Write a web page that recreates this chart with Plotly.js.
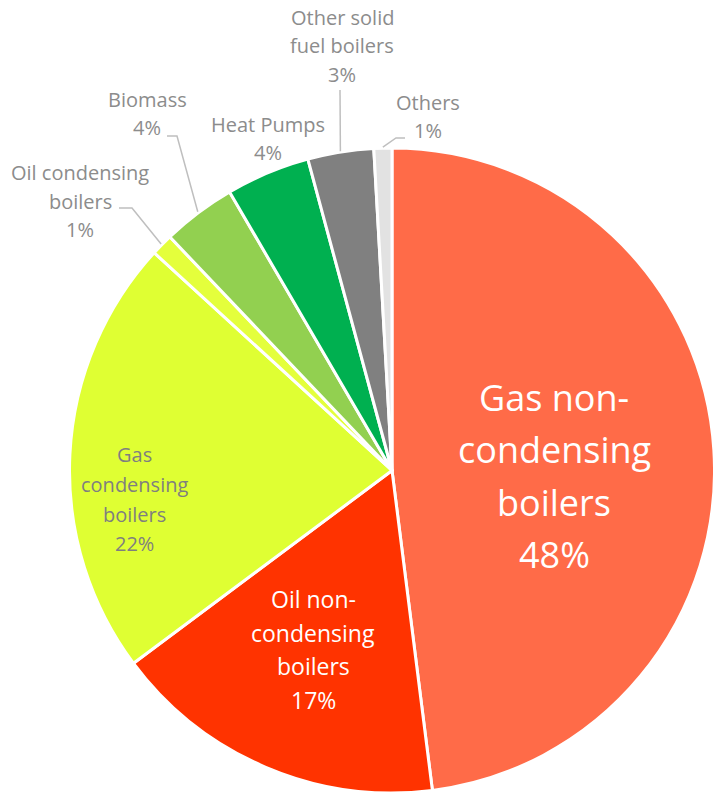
<!DOCTYPE html>
<html>
<head>
<meta charset="utf-8">
<script src="https://cdn.plot.ly/plotly-3.0.1.min.js"></script>
<style>html,body{margin:0;padding:0;background:#fff;overflow:hidden;}#chart{width:720px;height:794px;}</style>
</head>
<body>
<div id="chart"></div>
<script>
// ---- data ----
const categories = [
  "Gas non-condensing boilers",
  "Oil non-condensing boilers",
  "Gas condensing boilers",
  "Oil condensing boilers",
  "Biomass",
  "Heat Pumps",
  "Other solid fuel boilers",
  "Others"
];
const shares = [48.0, 16.8, 22.0, 1.1, 3.7, 4.2, 3.3, 0.9];
const labelLines = [
  ["Gas non-", "condensing", "boilers"],
  ["Oil non-", "condensing", "boilers"],
  ["Gas", "condensing", "boilers"],
  ["Oil condensing", "boilers"],
  ["Biomass"],
  ["Heat Pumps"],
  ["Other solid", "fuel boilers"],
  ["Others"]
];

// ---- styles ----
const colors = ["#FF6B48", "#FF3300", "#DFFF33", "#E4FF3C", "#92D050", "#00B050", "#808080", "#E2E2E2"];
const W = 720, H = 794;           // plot is slightly wider than the 713px window; the pie is clipped at the right like the reference
const CX = 392, CY = 470.5, R = 322.5;
// label centre (px), font size, line spacing, colour, leader [startX, startY, elbowX]
const labelStyle = [
  {x: 554, y: 397, size: 36, gap: 52.5, color: "#FFFFFF"},
  {x: 313, y: 599, size: 23, gap: 33.5, color: "#FFFFFF"},
  {x: 134, y: 455, size: 20, gap: 29.5, color: "#7F7F7F"},
  {x: 80,  y: 172, size: 20, gap: 29,   color: "#8C8C8C", leader: [119, 208, 132]},
  {x: 147, y: 99,  size: 20, gap: 29,   color: "#8C8C8C", leader: [167, 136, 177]},
  {x: 268, y: 124, size: 20, gap: 28,   color: "#8C8C8C"},
  {x: 342, y: 17,  size: 20, gap: 28.5, color: "#8C8C8C", leader: [340, 90, 340]},
  {x: 428, y: 103, size: 20, gap: 28,   color: "#8C8C8C", leader: [405, 138, 396]}
];

const px = v => v / W;
const py = v => 1 - v / H;

const total = shares.reduce((a, b) => a + b, 0);
const annotations = [];
const shapes = [];
let cum = 0;
shares.forEach((v, i) => {
  const mid = (cum + v / 2) / total * 2 * Math.PI;
  cum += v;
  const st = labelStyle[i];
  const lines = labelLines[i].concat([Math.round(v) + "%"]);
  lines.forEach((t, k) => {
    annotations.push({
      text: t, xref: "paper", yref: "paper",
      x: px(st.x), y: py(st.y + k * st.gap),
      xanchor: "center", yanchor: "middle", showarrow: false,
      font: {family: "Open Sans, sans-serif", size: st.size, color: st.color}
    });
  });
  if (st.leader) {
    const ex = CX + (R + 1) * Math.sin(mid);
    const ey = CY - (R + 1) * Math.cos(mid);
    const [sx, sy, bx] = st.leader;
    shapes.push({
      type: "path", xref: "paper", yref: "paper",
      path: `M ${px(sx)} ${py(sy)} L ${px(bx)} ${py(sy)} L ${px(ex)} ${py(ey)}`,
      line: {color: "#BFBFBF", width: 1.5}
    });
  }
});

const trace = {
  type: "pie",
  labels: categories,
  values: shares,
  sort: false,
  direction: "clockwise",
  rotation: 0,
  textinfo: "none",
  hoverinfo: "label+percent",
  marker: {colors: colors, line: {color: "#FFFFFF", width: 3}},
  domain: {x: [(CX - R) / W, (CX + R) / W], y: [(H - CY - R) / H, (H - CY + R) / H]},
  showlegend: false
};

const layout = {
  width: W, height: H,
  margin: {l: 0, r: 0, t: 0, b: 0},
  paper_bgcolor: "#FFFFFF",
  showlegend: false,
  annotations: annotations,
  shapes: shapes
};

Plotly.newPlot("chart", [trace], layout, {displayModeBar: false, staticPlot: true});
</script>
</body>
</html>
